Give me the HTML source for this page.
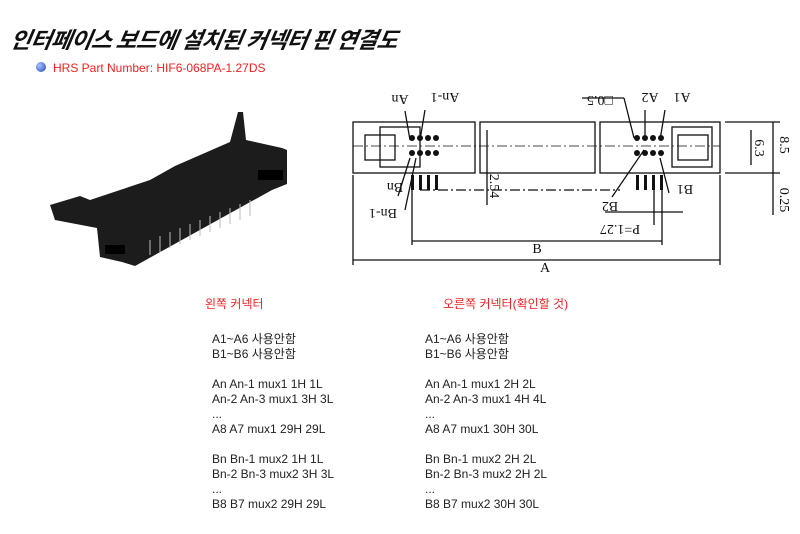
<!DOCTYPE html>
<html><head><meta charset="utf-8"><style>
body{margin:0;width:800px;height:534px;background:#fff;position:relative;overflow:hidden;font-family:"Liberation Sans","Noto Sans CJK KR",sans-serif}
.t{position:absolute;white-space:nowrap}
.c{font-size:12px;color:#222;line-height:15px}
</style></head><body>
<div class="t" style="left:11px;top:23px;font-size:22.5px;font-weight:bold;font-style:italic;color:#111;font-family:'Noto Sans CJK KR',sans-serif;transform:skewX(-10deg);letter-spacing:-0.5px">인터페이스 보드에 설치된 커넥터 핀 연결도</div>
<div class="t" style="left:36px;top:62px;width:10px;height:10px;border-radius:50%;background:radial-gradient(circle at 35% 35%,#aac4ff,#2244bb)"></div>
<div class="t" style="left:53px;top:61px;font-size:12px;color:#e22">HRS Part Number: HIF6-068PA-1.27DS</div>

<svg class="t" style="left:0;top:0" width="800" height="534">
<g fill="#1c1c1c">
<polygon points="50,205 80,196 90,200 150,180 175,166 230,142 238,112 243,112 246,140 282,148 287,150 287,184 272,190 135,266 122,262 100,257 97,228 55,220"/>
</g>
<g fill="#000"><rect x="258" y="170" width="25" height="10"/><rect x="105" y="245" width="20" height="9"/></g>
<g stroke="#bbb" stroke-width="1">
<line x1="150" y1="240" x2="150" y2="255"/><line x1="160" y1="236" x2="160" y2="252"/><line x1="170" y1="232" x2="170" y2="248"/><line x1="180" y1="228" x2="180" y2="244"/><line x1="190" y1="224" x2="190" y2="240"/><line x1="200" y1="220" x2="200" y2="236"/><line x1="210" y1="216" x2="210" y2="232"/><line x1="220" y1="212" x2="220" y2="228"/><line x1="230" y1="208" x2="230" y2="224"/><line x1="240" y1="204" x2="240" y2="220"/><line x1="250" y1="200" x2="250" y2="216"/>
</g>
<g fill="none" stroke="#111" stroke-width="1.3">
<rect x="353" y="122" width="122" height="51"/>
<rect x="480" y="122" width="115" height="51"/>
<rect x="600" y="122" width="120" height="51"/>
<rect x="380" y="127" width="40" height="40"/><rect x="365" y="135" width="30" height="25"/>
<rect x="672" y="127" width="40" height="40"/><rect x="678" y="135" width="30" height="25"/>
<line x1="353" y1="260" x2="720" y2="260"/><line x1="353" y1="175" x2="353" y2="265"/><line x1="720" y1="175" x2="720" y2="265"/>
<line x1="412" y1="241" x2="662" y2="241"/><line x1="412" y1="180" x2="412" y2="245"/><line x1="662" y1="180" x2="662" y2="245"/>
<line x1="725" y1="122" x2="780" y2="122"/><line x1="725" y1="173" x2="780" y2="173"/>
<line x1="773" y1="122" x2="773" y2="215"/><line x1="751" y1="130" x2="751" y2="165"/>
<line x1="487" y1="130" x2="487" y2="205"/><line x1="420" y1="190" x2="620" y2="190" stroke-dasharray="10,3,2,3"/>
<line x1="353" y1="146" x2="720" y2="146" stroke-dasharray="10,3,2,3" stroke-width=".8"/>
<line x1="582" y1="98" x2="624" y2="98"/><line x1="624" y1="98" x2="634" y2="138"/>
<line x1="605" y1="212" x2="683" y2="212"/><line x1="654" y1="180" x2="654" y2="225"/>
<line x1="612" y1="197" x2="644" y2="150"/><line x1="669" y1="193" x2="660" y2="158"/>
<line x1="398" y1="196" x2="410" y2="158"/><line x1="405" y1="210" x2="416" y2="158"/>
<line x1="405" y1="111" x2="410" y2="140"/><line x1="425" y1="110" x2="420" y2="140"/>
<line x1="645" y1="110" x2="645" y2="140"/><line x1="665" y1="110" x2="660" y2="140"/>
</g>
<g fill="#111">
<circle cx="412" cy="138" r="3"/><circle cx="420" cy="138" r="3"/><circle cx="428" cy="138" r="3"/><circle cx="436" cy="138" r="3"/>
<circle cx="412" cy="153" r="3"/><circle cx="420" cy="153" r="3"/><circle cx="428" cy="153" r="3"/><circle cx="436" cy="153" r="3"/>
<circle cx="637" cy="138" r="3"/><circle cx="645" cy="138" r="3"/><circle cx="653" cy="138" r="3"/><circle cx="661" cy="138" r="3"/>
<circle cx="637" cy="153" r="3"/><circle cx="645" cy="153" r="3"/><circle cx="653" cy="153" r="3"/><circle cx="661" cy="153" r="3"/>
<rect x="411" y="175" width="3" height="15"/><rect x="419" y="175" width="3" height="15"/><rect x="427" y="175" width="3" height="15"/><rect x="435" y="175" width="3" height="15"/>
<rect x="636" y="175" width="3" height="15"/><rect x="644" y="175" width="3" height="15"/><rect x="652" y="175" width="3" height="15"/><rect x="660" y="175" width="3" height="15"/>
</g>
<g font-family="Liberation Serif,serif" font-size="14" fill="#111">
<text x="545" y="272" text-anchor="middle">A</text>
<text x="537" y="253" text-anchor="middle">B</text>
<text transform="rotate(180 400 100)" x="400" y="105" text-anchor="middle">An</text>
<text transform="rotate(180 445 98)" x="445" y="103" text-anchor="middle">An-1</text>
<text transform="rotate(180 650 98)" x="650" y="103" text-anchor="middle">A2</text>
<text transform="rotate(180 682 98)" x="682" y="103" text-anchor="middle">A1</text>
<text transform="rotate(180 600 101)" x="600" y="106" text-anchor="middle">□0.5</text>
<text transform="rotate(180 395 188)" x="395" y="193" text-anchor="middle">Bn</text>
<text transform="rotate(180 383 214)" x="383" y="219" text-anchor="middle">Bn-1</text>
<text transform="rotate(180 685 190)" x="685" y="195" text-anchor="middle">B1</text>
<text transform="rotate(180 610 207)" x="610" y="212" text-anchor="middle">B2</text>
<text transform="rotate(180 620 230)" x="620" y="235" text-anchor="middle">P=1.27</text>
<text transform="rotate(90 495 186)" x="495" y="191" text-anchor="middle">2.54</text>
<text transform="rotate(90 760 148)" x="760" y="153" text-anchor="middle">6.3</text>
<text transform="rotate(90 785 145)" x="785" y="150" text-anchor="middle">8.5</text>
<text transform="rotate(90 785 200)" x="785" y="205" text-anchor="middle">0.25</text>
</g>
</svg>

<div class="t" style="left:205px;top:295px;font-size:12px;color:#e22">왼쪽 커넥터</div>
<div class="t" style="left:443px;top:295px;font-size:12px;color:#e22">오른쪽 커넥터(확인할 것)</div>
<div class="t c" style="left:212px;top:332px">A1~A6 사용안함<br>B1~B6 사용안함<br><br>An An-1 mux1 1H 1L<br>An-2 An-3 mux1 3H 3L<br>...<br>A8 A7 mux1 29H 29L<br><br>Bn Bn-1 mux2 1H 1L<br>Bn-2 Bn-3 mux2 3H 3L<br>...<br>B8 B7 mux2 29H 29L</div>
<div class="t c" style="left:425px;top:332px">A1~A6 사용안함<br>B1~B6 사용안함<br><br>An An-1 mux1 2H 2L<br>An-2 An-3 mux1 4H 4L<br>...<br>A8 A7 mux1 30H 30L<br><br>Bn Bn-1 mux2 2H 2L<br>Bn-2 Bn-3 mux2 2H 2L<br>...<br>B8 B7 mux2 30H 30L</div>
</body></html>
